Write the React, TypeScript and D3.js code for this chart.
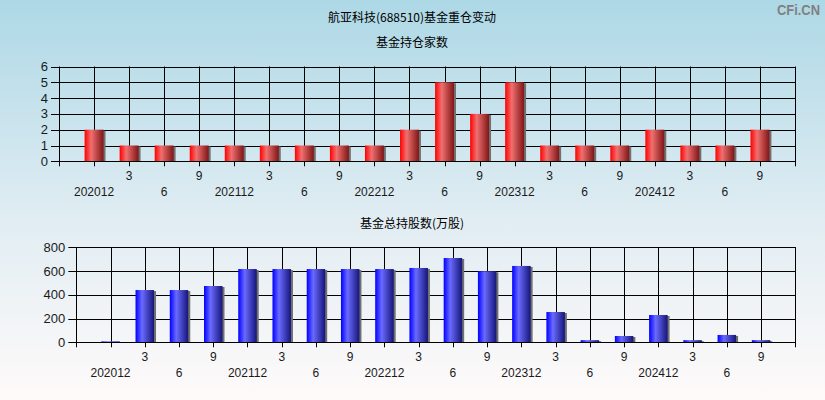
import React from "react";
import * as d3 from "d3";

const categories = [
  "202012", "3", "6", "9",
  "202112", "3", "6", "9",
  "202212", "3", "6", "9",
  "202312", "3", "6", "9",
  "202412", "3", "6", "9",
];
const fundCount = [2, 1, 1, 1, 1, 1, 1, 1, 1, 2, 5, 3, 5, 1, 1, 1, 2, 1, 1, 2];
const fundShares = [8, 440, 440, 474, 617, 617, 617, 617, 617, 626, 710, 598, 643, 255, 18, 53, 230, 18, 62, 18];
const countTicks = [0, 1, 2, 3, 4, 5, 6];
const shareTicks = [0, 200, 400, 600, 800];

const W = 825;
const H = 400;
const FONT = "'Liberation Sans', Arial, 'Noto Sans CJK SC', sans-serif";
const CJK = "'Noto Sans CJK SC', 'Liberation Sans', sans-serif";

type PanelProps = {
  id: string;
  values: number[];
  ticks: number[];
  left: number;
  right: number;
  top: number;
  bottom: number;
  yMax: number;
  title: string;
  titleY: number;
  grad: [string, string, string];
};

function Panel(p: PanelProps) {
  const n = categories.length;
  const x = d3.scaleLinear().domain([0, n + 1]).range([p.left, p.right]);
  const y = d3.scaleLinear().domain([0, p.yMax]).range([p.bottom, p.top]);
  const step = x(1) - x(0);
  const bw = step * 0.54;
  const gridX = d3.range(0, n + 2);
  return (
    <g>
      <defs>
        <linearGradient id={p.id} x1="0" x2="1" y1="0" y2="0">
          <stop offset="0" stopColor={p.grad[0]} />
          <stop offset="0.35" stopColor={p.grad[1]} />
          <stop offset="1" stopColor={p.grad[2]} />
        </linearGradient>
      </defs>
      <text x={412} y={p.titleY} textAnchor="middle" fontSize={12} fontFamily={CJK} fill="#000">
        {p.title}
      </text>
      {p.ticks.map((t) => (
        <g key={"h" + t}>
          <line x1={p.left - 8} x2={p.right} y1={Math.round(y(t)) + 0.5} y2={Math.round(y(t)) + 0.5} stroke="#000" strokeWidth={1} />
          <text x={p.left - 11} y={y(t)} dy="0.35em" textAnchor="end" fontSize={13} fontFamily={FONT} fill="#1a1a1a">
            {t}
          </text>
        </g>
      ))}
      {gridX.map((i) => (
        <line
          key={"v" + i}
          x1={Math.round(x(i)) + 0.5}
          x2={Math.round(x(i)) + 0.5}
          y1={p.top}
          y2={p.bottom + 5}
          stroke="#000"
          strokeWidth={1}
        />
      ))}
      {p.values.map((v, i) => {
        const cx = x(i + 1);
        const y0 = y(0);
        const y1 = y(v);
        return (
          <g key={"b" + i}>
            <rect x={cx - bw / 2 + 2} y={y1 + 1} width={bw} height={Math.max(0, y0 - y1 - 1)} fill="#707070" />
            <rect x={cx - bw / 2} y={y1} width={bw} height={Math.max(0, y0 - y1)} fill={`url(#${p.id})`} />
          </g>
        );
      })}
      <rect x={Math.round(p.left) + 0.5} y={Math.round(p.top) + 0.5} width={Math.round(p.right) - Math.round(p.left)} height={Math.round(p.bottom) - Math.round(p.top)} fill="none" stroke="#000" strokeWidth={1} />
      {categories.map((c, i) => (
        <text
          key={"t" + i}
          x={x(i + 1)}
          y={p.bottom + (i % 2 === 1 ? 19 : 35)}
          textAnchor="middle"
          fontSize={12}
          fontFamily={FONT}
          fill="#1a1a1a"
        >
          {c}
        </text>
      ))}
    </g>
  );
}

export default function App() {
  return (
    <svg width={W} height={H} style={{ display: "block", position: "absolute", left: 0, top: 0 }}>
      <defs>
        <linearGradient id="bg" x1="0" x2="0" y1="0" y2="1">
          <stop offset="0" stopColor="#add8e6" />
          <stop offset="0.55" stopColor="#e1edf3" />
          <stop offset="1" stopColor="#fffafa" />
        </linearGradient>
      </defs>
      <rect x={0} y={0} width={W} height={H} fill="url(#bg)" />
      <text x={412} y={22} textAnchor="middle" fontSize={12} fontFamily={CJK} fill="#000">
        航亚科技(688510)基金重仓变动
      </text>
      <text x={777} y={15} textAnchor="start" fontSize={14} fontWeight="bold" fontFamily={FONT} fill="#808080" textLength={43} lengthAdjust="spacingAndGlyphs">
        CFi.CN
      </text>
      <Panel
        id="gr"
        values={fundCount}
        ticks={countTicks}
        left={59}
        right={795}
        top={66.5}
        bottom={161.3}
        yMax={6}
        title="基金持仓家数"
        titleY={47}
        grad={["#ff0000", "#f07070", "#801515"]}
      />
      <Panel
        id="gb"
        values={fundShares}
        ticks={shareTicks}
        left={76.3}
        right={795.3}
        top={247.3}
        bottom={342.3}
        yMax={800}
        title="基金总持股数(万股)"
        titleY={228}
        grad={["#0000ff", "#6a6aff", "#15157a"]}
      />
    </svg>
  );
}
